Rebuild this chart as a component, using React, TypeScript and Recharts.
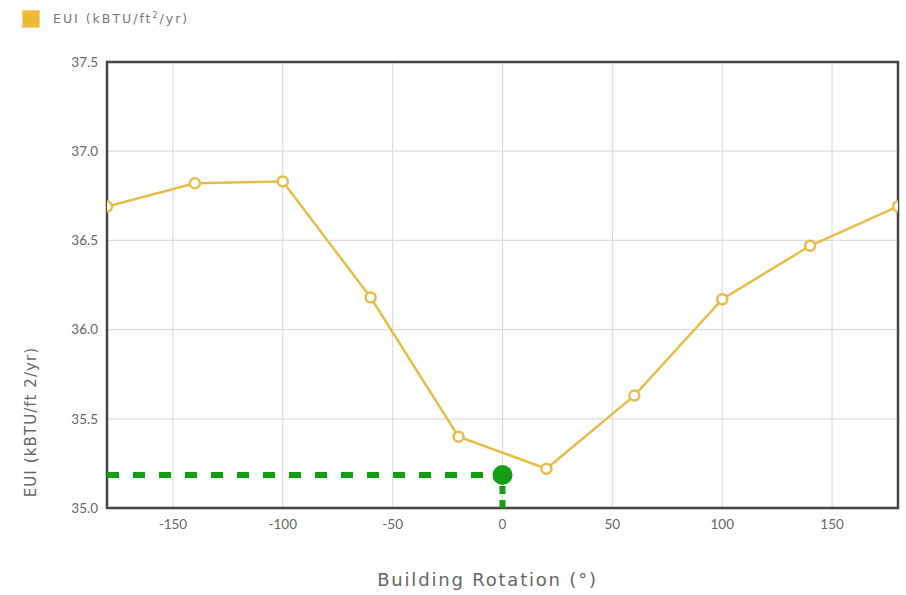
import { ComposedChart, Line, Scatter, XAxis, YAxis, CartesianGrid, ReferenceLine, ReferenceArea, Label } from 'recharts'

// building rotation (deg) vs EUI
const rotations = [-180, -140, -100, -60, -20, 20, 60, 100, 140, 180]
const euiValues = [36.69, 36.82, 36.83, 36.18, 35.4, 35.22, 35.63, 36.17, 36.47, 36.69]

const xTicks = [-150, -100, -50, 0, 50, 100, 150]
const yTicks = [35.0, 35.5, 36.0, 36.5, 37.0, 37.5]

// current design point
const currentRotation = 0
const currentEui = 35.185

const LINE_COLOR = '#E6BD47'
const GREEN = '#12A012'
const FONT = 'Lato, "Open Sans", sans-serif'
const WIDE_FONT = '"DejaVu Sans", sans-serif'

const euiData = rotations.map((x, i) => ({ x, y: euiValues[i] }))
const currentData = [{ x: currentRotation, y: currentEui }]

const GreenDot = (props: any) => {
  const { cx, cy } = props
  return <circle cx={cx} cy={cy} r={10} fill={GREEN} />
}

const XLabel = (props: any) => {
  const vb = props.viewBox
  return (
    <text
      x={vb.x + vb.width / 2 - 15}
      y={vb.y + 78}
      textAnchor="middle"
      fill="#666"
      fontSize={18}
      letterSpacing={1.8}
      fontFamily={WIDE_FONT}
    >
      Building Rotation (°)
    </text>
  )
}

const YLabel = () => {
  const x = 36
  const y = 422
  return (
    <text
      x={x}
      y={y}
      transform={`rotate(-90, ${x}, ${y})`}
      textAnchor="middle"
      fill="#666"
      fontSize={15}
      letterSpacing={1.1}
      fontFamily={WIDE_FONT}
    >
      EUI (kBTU/ft 2/yr)
    </text>
  )
}

export default function App() {
  return (
    <div style={{ position: 'absolute', left: 0, top: 0, width: 906, height: 595, background: '#fff', fontFamily: FONT }}>
      <div style={{ position: 'absolute', left: 22, top: 10, display: 'flex', alignItems: 'center' }}>
        <div style={{ width: 16, height: 16, background: '#F1B838', border: '1px solid #F5D27E' }} />
        <span style={{ marginLeft: 13, fontSize: 12.5, letterSpacing: 2, color: '#777', fontFamily: WIDE_FONT }}>
          EUI (kBTU/ft<sup style={{ fontSize: 8 }}>2</sup>/yr)
        </span>
      </div>
      <ComposedChart width={906} height={595} margin={{ top: 62, right: 8, left: 0, bottom: 0 }}>
        <CartesianGrid stroke="#ddd" strokeWidth={1.2} horizontalValues={[35.5, 36, 36.5, 37]} verticalValues={xTicks} />
        <XAxis
          type="number"
          dataKey="x"
          domain={[-180, 180]}
          ticks={xTicks}
          allowDataOverflow
          height={87}
          tickLine={false}
          tickSize={0}
          tickMargin={11}
          axisLine={false}
          tick={{ fill: '#666', fontSize: 13.5, fontFamily: FONT }}
        >
          <Label content={<XLabel />} />
        </XAxis>
        <YAxis
          type="number"
          dataKey="y"
          domain={[35, 37.5]}
          ticks={yTicks}
          allowDataOverflow
          width={107}
          tickLine={false}
          tickSize={0}
          tickMargin={9}
          axisLine={false}
          tickFormatter={(v: number) => v.toFixed(1)}
          tick={{ fill: '#666', fontSize: 13.5, fontFamily: FONT }}
        >
          <Label content={<YLabel />} />
        </YAxis>
        <ReferenceArea x1={-180} x2={180} y1={35} y2={37.5} fill="none" stroke="#444" strokeWidth={2.5} />
        <ReferenceLine
          segment={[{ x: -180, y: currentEui }, { x: currentRotation, y: currentEui }]}
          stroke={GREEN}
          strokeWidth={6}
          strokeDasharray="12 14"
        />
        <ReferenceLine
          segment={[{ x: currentRotation, y: 35 }, { x: currentRotation, y: currentEui }]}
          stroke={GREEN}
          strokeWidth={6}
          strokeDasharray="8 6"
        />
        <Line
          data={euiData}
          dataKey="y"
          stroke={LINE_COLOR}
          strokeWidth={2.5}
          dot={{ r: 5, fill: '#fff', stroke: LINE_COLOR, strokeWidth: 2.5 }}
          isAnimationActive={false}
        />
        <Scatter data={currentData} dataKey="y" fill={GREEN} shape={<GreenDot />} isAnimationActive={false} />
      </ComposedChart>
    </div>
  )
}
